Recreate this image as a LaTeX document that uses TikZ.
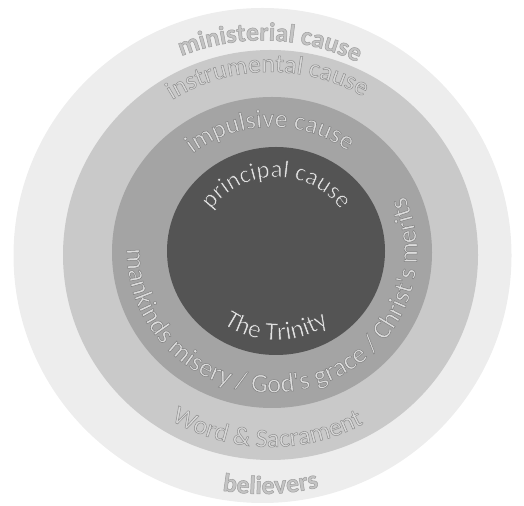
\documentclass[tikz,border=0pt]{standalone}
\usepackage{fontspec}
\newfontfamily\ringfont{Carlito}
\usetikzlibrary{decorations.text}
\definecolor{ringouter}{HTML}{EDEDED}
\definecolor{ringinstr}{HTML}{C9C9C9}
\definecolor{ringimpul}{HTML}{A4A4A4}
\definecolor{ringprinc}{HTML}{545454}
\definecolor{lblouter}{HTML}{C4C4C4}
\definecolor{lblinstr}{HTML}{D8D8D8}
\definecolor{lblimpul}{HTML}{DCDCDC}
\definecolor{lblprinc}{HTML}{E2E2E2}
\tikzset{
    ringlbl/.style={decorate, decoration={text along path, text align=center, text color=#1}}
}
\newcommand{\lblsize}{\fontsize{26}{30}\selectfont}
% outlined glyphs: fill with the text colour, stroke in grey #1
\newcommand{\lblline}[1]{\special{pdf:literal direct 2 Tr 0.5 w #1 G}}

\begin{document}
\begin{tikzpicture}[x=1bp, y=1bp]
    \useasboundingbox (0,0) rectangle (524,506);
    % centres of the four rings
    \coordinate (c1) at (262.5,250.5);
    \coordinate (c2) at (270.5,251);
    \coordinate (c3) at (272,253.5);
    \coordinate (c4) at (276,255);
    \fill[ringouter] (c1) ellipse[x radius=249, y radius=247.5];
    \fill[ringinstr] (c2) ellipse[x radius=207.5, y radius=205];
    \fill[ringimpul] (c3) ellipse[x radius=160, y radius=155.5];
    \fill[ringprinc] (c4) ellipse[x radius=109, y radius=104];
    % labels above the centre
    \path[ringlbl=lblouter, decoration={text={|\ringfont\bfseries\lblsize\lblline{0.62}|ministerial cause}}, shift={(c1)}]
        (168:216 and 215) arc[start angle=168, end angle=8, x radius=216, y radius=215];
    \path[ringlbl=lblinstr, decoration={text={|\ringfont\lblsize\lblline{0.56}|instrumental cause}}, shift={(c2)}]
        (171:185 and 183) arc[start angle=171, end angle=11, x radius=185, y radius=183];
    \path[ringlbl=lblimpul, decoration={text={|\ringfont\lblsize\lblline{0.5}|impulsive cause}}, shift={(c3)}]
        (171:129 and 125.5) arc[start angle=171, end angle=11, x radius=129, y radius=125.5];
    \path[ringlbl=lblprinc, decoration={text={|\ringfont\fontsize{25}{30}\selectfont\lblline{0.3}|principal cause}}, shift={(c4)}]
        (170:78 and 74) arc[start angle=170, end angle=10, x radius=78, y radius=74];
    % labels below the centre
    \path[ringlbl=lblprinc, decoration={text={|\ringfont\lblsize\lblline{0.3}|The Trinity}}, shift={(c4)}]
        (170:92 and 89) arc[start angle=170, end angle=370, x radius=92, y radius=89];
    \path[ringlbl=lblimpul, decoration={text={|\ringfont\fontsize{26.8}{30}\selectfont\lblline{0.5}|mankinds misery / God's grace / Christ's merits}}, shift={(c3)}]
        (151:145 and 140) arc[start angle=151, end angle=411, x radius=145, y radius=140];
    \path[ringlbl=lblinstr, decoration={text={|\ringfont\lblsize\lblline{0.56}|Word {\&} Sacrament}}, shift={(c2)}]
        (169:195 and 192) arc[start angle=169, end angle=369, x radius=195, y radius=192];
    \path[ringlbl=lblouter, decoration={text={|\ringfont\bfseries\lblsize\lblline{0.62}|believers}}, shift={(c1)}]
        (172:240 and 238.5) arc[start angle=172, end angle=372, x radius=240, y radius=238.5];
\end{tikzpicture}
\end{document}
